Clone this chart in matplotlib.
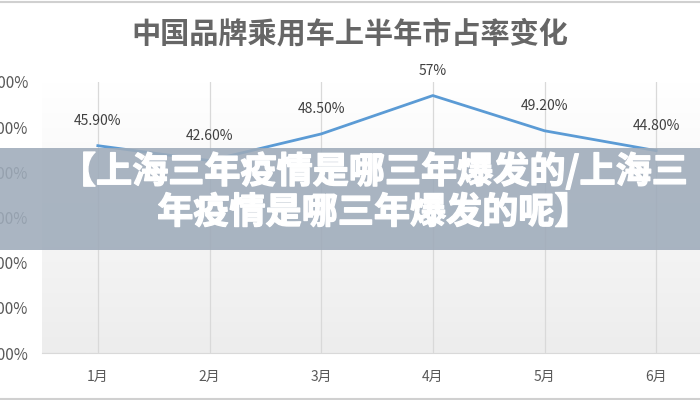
import numpy as np
import matplotlib
matplotlib.use("Agg")
import matplotlib.pyplot as plt
import matplotlib.patheffects as pe
from matplotlib.patches import Rectangle
from matplotlib.lines import Line2D

plt.rcParams['font.family'] = ['Noto Sans CJK SC', 'DejaVu Sans']

# data
months = ["1月", "2月", "3月", "4月", "5月", "6月"]
share = [0.459, 0.426, 0.485, 0.57, 0.492, 0.448]
point_labels = ["45.90%", "42.60%", "48.50%", "57%", "49.20%", "44.80%"]
y_ticks = [0.0, 0.1, 0.2, 0.3, 0.4, 0.5, 0.6]

title = "中国品牌乘用车上半年市占率变化"
banner = "【上海三年疫情是哪三年爆发的/上海三\n年疫情是哪三年爆发的呢】"

fig = plt.figure(figsize=(7, 4), dpi=100)
fig.patch.set_facecolor("white")

# plot area runs off the right edge, like the source
ax = fig.add_axes([42 / 700, 1 - 353 / 400, 670 / 700, 271 / 400])
x = np.arange(len(months))
ax.set_xlim(-0.5, len(months) - 0.5)
ax.set_ylim(0, 0.6)

# soft vertical gradient behind the plot
grad = np.linspace(1.0, 0.0, 256).reshape(-1, 1)
ax.imshow(grad, extent=[-0.5, len(months) - 0.5, 0, 0.6], aspect="auto",
          cmap=matplotlib.colors.LinearSegmentedColormap.from_list(
              "bg", ["#ededed", "#ffffff"]), zorder=0)

for xi in x:
    ax.axvline(xi, color="#d9d9d9", lw=0.9, zorder=1)

ax.plot(x, share, color="#5b9bd5", lw=2.0, zorder=3)
for xi, yi, lab in zip(x, share, point_labels):
    ax.annotate(lab, (xi, yi), xytext=(0, 18), textcoords="offset points",
                ha="center", va="center", fontsize=10, color="#404040", zorder=4)

ax.set_xticks(x)
ax.set_xticklabels(months, fontsize=10, color="#595959")
ax.set_yticks(y_ticks)
ax.set_yticklabels([f"{v * 100:.2f}%" for v in y_ticks], fontsize=11, color="#595959")
ax.tick_params(axis="x", length=0, pad=12)
ax.tick_params(axis="y", length=0, pad=10)
for side in ["top", "right", "left"]:
    ax.spines[side].set_visible(False)
ax.spines["bottom"].set_color("#d9d9d9")

fig.text(0.5, 1 - 33 / 400, title, ha="center", va="center", fontsize=21,
         fontweight="bold", color="#666666")

# thin frame lines top and bottom
fig.add_artist(Line2D([0, 1], [1 - 1.5 / 400, 1 - 1.5 / 400], color="#d0d0d0", lw=1.5))
fig.add_artist(Line2D([0, 1], [1.5 / 400, 1.5 / 400], color="#d0d0d0", lw=1.5))

# overlay banner
fig.add_artist(Rectangle((0, 1 - 250 / 400), 1, 102 / 400, transform=fig.transFigure,
                         facecolor="#9eabba", alpha=0.88, edgecolor="none", zorder=10))
fig.text(374 / 700, 1 - 192 / 400, banner, ha="center", va="center", fontsize=26,
         fontweight="heavy", color="white", linespacing=1.12, zorder=11,
         path_effects=[pe.withStroke(linewidth=1.0, foreground="white")])

fig.savefig("out.png", dpi=100)
